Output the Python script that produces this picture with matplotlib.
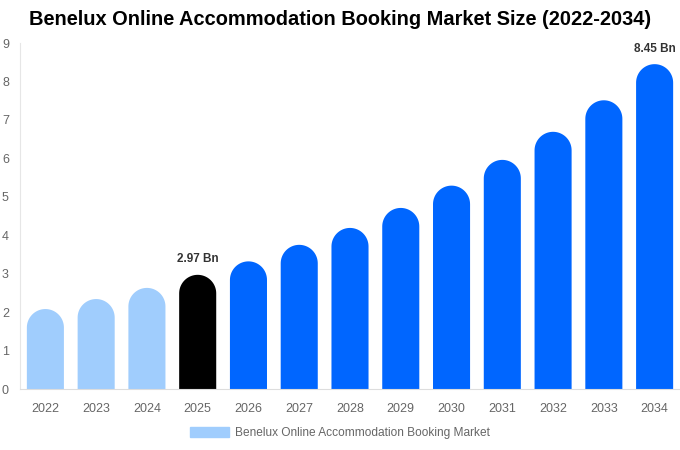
import numpy as np
import matplotlib.pyplot as plt
from matplotlib.patches import Polygon, Patch

years = ['2022', '2023', '2024', '2025', '2026', '2027', '2028',
         '2029', '2030', '2031', '2032', '2033', '2034']
values = [2.08, 2.34, 2.63, 2.97, 3.32, 3.75, 4.19, 4.71, 5.29, 5.96, 6.69, 7.51, 8.45]
colors = ['#a0cdfd'] * 3 + ['#000000'] + ['#0066ff'] * 9
labels = {3: '2.97 Bn', 12: '8.45 Bn'}

plt.rcParams['font.family'] = ['Liberation Sans', 'DejaVu Sans']

fig = plt.figure(figsize=(6.8, 4.5), dpi=100)
ax = fig.add_axes([20 / 680, 61 / 450, 660 / 680, 346 / 450])
ax.set_xlim(-0.5, len(years) - 0.5)
ax.set_ylim(0, 9)

# half width of a bar converted to y units so the cap is a true semicircle
w = 0.73
px_x = 660 / len(years)
px_y = 346 / 9
ry = (w / 2) * px_x / px_y
t = np.linspace(0, np.pi, 40)

for i, v in enumerate(values):
    top = v - ry
    cap = np.column_stack([i + (w / 2) * np.cos(t), top + ry * np.sin(t)])
    pts = np.vstack([[i + w / 2, 0], cap, [i - w / 2, 0]])
    ax.add_patch(Polygon(pts, closed=True, facecolor=colors[i], edgecolor='none'))
    if i in labels:
        ax.text(i, v + 0.25, labels[i], ha='center', va='bottom',
                fontsize=8.5, fontweight='bold', color='#333333')

ax.set_xticks(range(len(years)))
ax.set_xticklabels(years)
ax.set_yticks(range(0, 10))
ax.tick_params(length=0, labelsize=9, colors='#666666')
ax.tick_params(axis='y', pad=8)
ax.tick_params(axis='x', pad=10)
for s in ['top', 'right']:
    ax.spines[s].set_visible(False)
ax.spines['left'].set_color('#e6e6e6')
ax.spines['bottom'].set_color('#dddddd')

fig.suptitle('Benelux Online Accommodation Booking Market Size (2022-2034)',
             x=0.5, y=0.978, fontsize=14.4, fontweight='bold', color='#000000')

fig.legend(handles=[Patch(color='#a0cdfd', label='Benelux Online Accommodation Booking Market')],
           loc='center', bbox_to_anchor=(340 / 680, 1 - 433 / 450), frameon=False,
           fontsize=8.6, labelcolor='#666666', handlelength=3.3, handleheight=0.9,
           handletextpad=0.5)

fig.savefig('out.png', dpi=100)
